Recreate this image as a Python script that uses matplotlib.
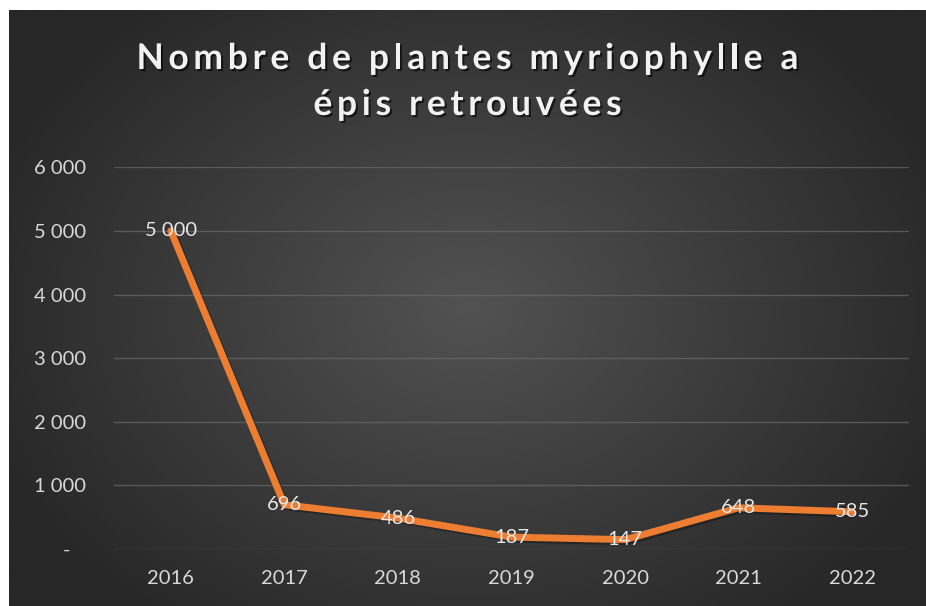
import numpy as np
import matplotlib
matplotlib.use("Agg")
import matplotlib.pyplot as plt
import matplotlib.patheffects as pe

# donnees
annees = ["2016", "2017", "2018", "2019", "2020", "2021", "2022"]
plantes = [5000, 696, 486, 187, 147, 648, 585]
graduations = [0, 1000, 2000, 3000, 4000, 5000, 6000]
titre = ["Nombre de plantes myriophylle a", "épis retrouvées"]

plt.rcParams["font.family"] = ["Lato", "DejaVu Sans"]

W, H = 926, 606
fig = plt.figure(figsize=(W / 100, H / 100), dpi=100, facecolor="white")

# fond sombre avec degrade radial
fond = fig.add_axes([9 / W, 0, (W - 9) / W, (H - 10) / H])
fond.set_axis_off()
yy, xx = np.mgrid[0:300, 0:460]
cx, cy = 230, 150
d = np.sqrt(((xx - cx) / 260.0) ** 2 + ((yy - cy) / 200.0) ** 2)
d = np.clip(d, 0, 1)
centre = np.array([0x52, 0x52, 0x52]) / 255
bord = np.array([0x27, 0x27, 0x27]) / 255
img = centre[None, None, :] * (1 - d[..., None]) + bord[None, None, :] * d[..., None]
fond.imshow(img, aspect="auto", extent=[0, 1, 0, 1], interpolation="bilinear")
fond.set_xlim(0, 1)
fond.set_ylim(0, 1)

ax = fig.add_axes([114 / W, (H - 549) / H, 795 / W, (549 - 167.3) / H])
ax.patch.set_alpha(0)
x = np.arange(len(annees))
ax.plot(x, plantes, color="#ED7D31", lw=5, solid_capstyle="round",
        solid_joinstyle="round", zorder=3,
        path_effects=[pe.SimpleLineShadow(offset=(1.5, -1.5), shadow_color="black", alpha=0.3),
                      pe.Normal()])

def fmt(v):
    if v == 0:
        return "-   "
    return f"{v:,}".replace(",", " ")

for xi, v in zip(x, plantes):
    ax.text(xi, v, fmt(v), ha="center", va="center", color="#e8e8e8",
            fontsize=14.5, zorder=4)

ax.set_xlim(-0.5, len(annees) - 0.5)
ax.set_ylim(0, 6000)
ax.set_yticks(graduations)
ax.set_yticklabels([fmt(v) for v in graduations])
ax.set_xticks(x)
ax.set_xticklabels(annees)
ax.tick_params(axis="both", length=0, colors="#d9d9d9", labelsize=14.5)
ax.tick_params(axis="y", pad=20)
ax.tick_params(axis="x", pad=15)
ax.grid(axis="y", color="#6a6a6a", lw=1, alpha=0.7)
ax.set_axisbelow(True)
for s in ax.spines.values():
    s.set_visible(False)

# titre avec espacement des lettres
rend = fig.canvas.get_renderer()
ombre = [pe.withSimplePatchShadow(offset=(1.5, -1.5), shadow_rgbFace="black", alpha=0.6)]
kw = dict(fontsize=25.5, fontweight="bold", color="#f2f2f2")

def largeur(s):
    t = fig.text(0, 0, s, **kw)
    w = t.get_window_extent(rend).width
    t.remove()
    return w

esp = (662 - largeur(titre[0])) / (len(titre[0]) - 1)
for ligne, base in zip(titre, [69, 115]):
    total = largeur(ligne) + esp * (len(ligne) - 1)
    x0 = (9 + W) / 2 - total / 2
    for i, c in enumerate(ligne):
        xp = x0 + (largeur(ligne[:i]) if i else 0) + esp * i
        fig.text(xp / W, 1 - base / H, c, ha="left", va="baseline",
                 path_effects=ombre, **kw)

fig.savefig("out.png", dpi=100, facecolor="white")
